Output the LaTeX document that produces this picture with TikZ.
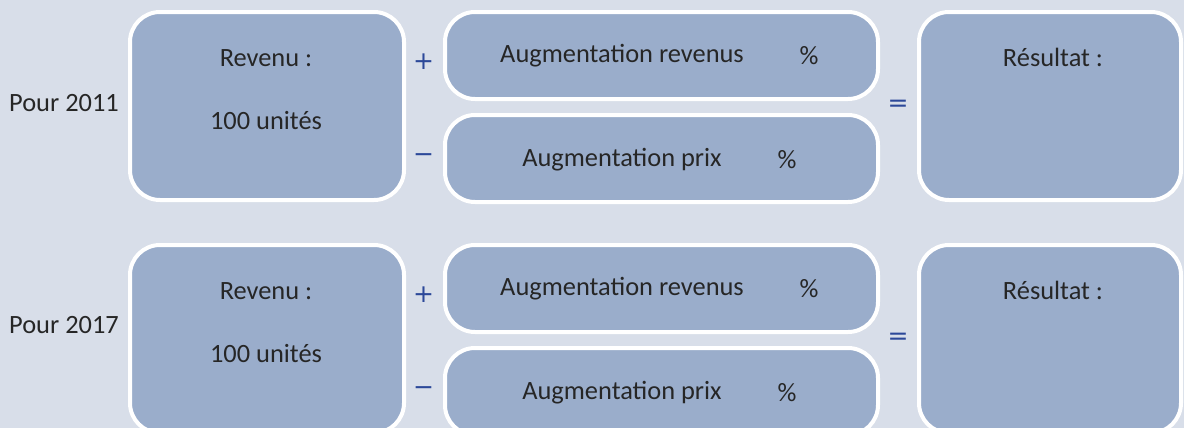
\documentclass[tikz,border=0pt]{standalone}
\usepackage{fontspec}
\setmainfont{Carlito}
\newfontfamily\signes{DejaVu Sans}
\usepackage{xcolor}

\definecolor{fond}{HTML}{D8DEE9}
\definecolor{bleuboite}{HTML}{9AADCB}
\definecolor{signe}{HTML}{2C4899}
\definecolor{texte}{HTML}{262626}

\tikzset{
  boite/.style={draw=white, line width=2pt, fill=bleuboite, rounded corners=15pt, inner sep=0pt},
  txt/.style={text=texte, font=\fontsize{13.2}{15}\selectfont, inner sep=0pt},
  op/.style={text=signe, font=\signes\fontsize{12.5}{14}\selectfont, inner sep=0pt}
}

\begin{document}
\begin{tikzpicture}[x=0.5pt, y=-0.5pt]
    % Fond
    \fill[fond] (0,0) rectangle (1184,428);
    \useasboundingbox (0,0) rectangle (1184,428);
    \clip (0,0) rectangle (1184,428);

    % Deux lignes : 2011 et 2017
    \foreach \dy/\an/\py in {0/2011/103, 233/2017/325} {
        \begin{scope}[shift={(0,\dy)}]
            % Boites
            \node[boite, minimum width=137pt, minimum height=94pt] (rev\an) at (267,106) {};
            \node[boite, minimum width=216.5pt, minimum height=43.5pt] (augr\an) at (661.5,55.5) {};
            \node[boite, minimum width=216.5pt, minimum height=43.5pt] (augp\an) at (661.5,158.5) {};
            \node[boite, minimum width=131pt, minimum height=94pt] (res\an) at (1050,106) {};

            % Textes
            \node[txt] (pour\an) at (64,\py-\dy) {Pour \an};
            \node[txt] (revt\an) at (266,58) {Revenu :};
            \node[txt] (unit\an) at (266,121) {100 unités};
            \node[txt] (augrt\an) at (622,56) {Augmentation revenus};
            \node[txt] (augrp\an) at (809,56) {\%};
            \node[txt] (augpt\an) at (622,160) {Augmentation prix};
            \node[txt] (augpp\an) at (787,160) {\%};
            \node[txt] (rest\an) at (1053,57) {Résultat :};

            % Signes
            \node[op] (plus\an) at (423.5,61.5) {+};
            \node[op] (moins\an) at (423.5,158) {−};
            \node[op] (egal\an) at (898,105.5) {=};
        \end{scope}
    }
\end{tikzpicture}
\end{document}
